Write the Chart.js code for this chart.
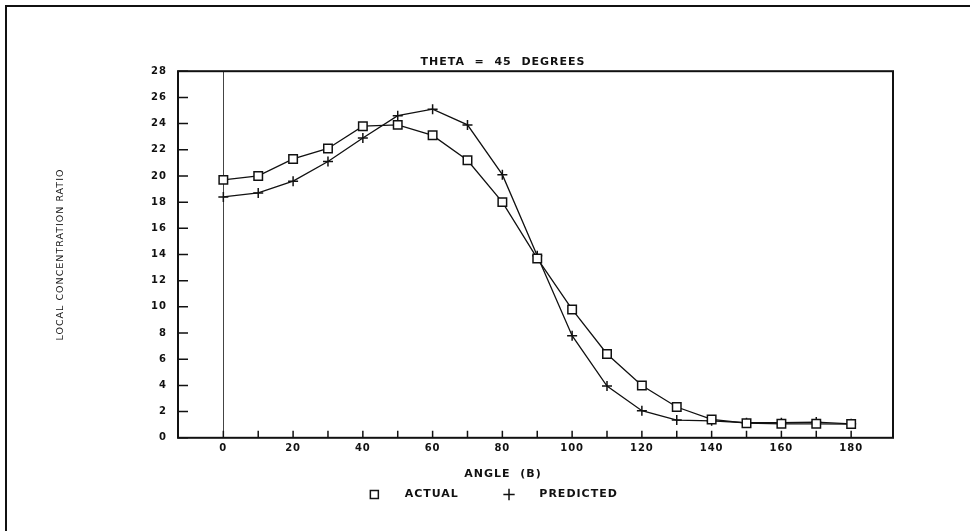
<!DOCTYPE html>
<html>
<head>
<meta charset="utf-8">
<script src="https://cdn.jsdelivr.net/npm/chart.js@4.4.1/dist/chart.umd.min.js"></script>
<style>
  body { margin: 0; background: #fff; }
  #page { position: absolute; left: 5px; top: 5px; width: 965px; height: 526px;
          border-top: 2px solid #111; border-left: 2px solid #111; }
  #chart { position: absolute; left: 0; top: 0; }
</style>
</head>
<body>
<div id="page"></div>
<canvas id="chart" width="970" height="531"></canvas>
<script>
Chart.defaults.font.family = '"DejaVu Sans", sans-serif';
Chart.defaults.color = '#111';

// angle in degrees
const angles = [0, 10, 20, 30, 40, 50, 60, 70, 80, 90, 100, 110, 120, 130, 140, 150, 160, 170, 180];
const actual = [19.7, 20.0, 21.3, 22.1, 23.8, 23.9, 23.1, 21.2, 18.0, 13.7, 9.8, 6.4, 4.0, 2.35, 1.4, 1.12, 1.07, 1.07, 1.05];
const predicted = [18.4, 18.7, 19.6, 21.1, 22.9, 24.6, 25.1, 23.9, 20.1, 13.9, 7.8, 3.95, 2.07, 1.35, 1.3, 1.15, 1.15, 1.2, 1.07];

const xMin = -13, xMax = 192;
const yMin = 0, yMax = 28;

// plotter style: box round the plot, ticks pointing inward
const frame = {
  id: 'frame',
  beforeUpdate(chart) { chart.ctx.letterSpacing = '1px'; },
  beforeDraw(chart) { chart.ctx.letterSpacing = '1px'; },
  beforeDatasetsDraw(chart) {
    const { ctx, chartArea: a, scales: { x, y } } = chart;
    ctx.save();
    ctx.strokeStyle = '#111';
    ctx.lineWidth = 2;
    ctx.strokeRect(a.left, a.top, a.right - a.left, a.bottom - a.top);
    ctx.lineWidth = 1.5;
    ctx.beginPath();
    x.ticks.forEach(t => {
      const px = x.getPixelForValue(t.value);
      ctx.moveTo(px, a.bottom);
      ctx.lineTo(px, a.bottom - 7);
    });
    y.ticks.forEach(t => {
      const py = y.getPixelForValue(t.value);
      ctx.moveTo(a.left, py);
      ctx.lineTo(a.left + 10, py);
    });
    ctx.stroke();
    ctx.restore();
  }
};

new Chart(document.getElementById('chart'), {
  type: 'line',
  data: {
    datasets: [
      {
        label: 'ACTUAL',
        data: angles.map((a, i) => ({ x: a, y: actual[i] })),
        borderColor: '#111',
        borderWidth: 1.3,
        pointStyle: 'rect',
        pointRadius: 6,
        pointBorderWidth: 1.5,
        pointBackgroundColor: '#fff',
        pointBorderColor: '#111',
        tension: 0,
      },
      {
        label: 'PREDICTED',
        data: angles.map((a, i) => ({ x: a, y: predicted[i] })),
        borderColor: '#111',
        borderWidth: 1.3,
        pointStyle: 'cross',
        pointRadius: 5,
        pointBorderWidth: 1.5,
        pointBorderColor: '#111',
        tension: 0,
      },
    ],
  },
  options: {
    responsive: false,
    animation: false,
    events: [],
    layout: { padding: { left: 36, right: 0, top: 0, bottom: 21 } },
    plugins: {
      title: {
        display: true,
        text: 'THETA  =  45  DEGREES',
        font: { size: 11, weight: 'bold' },
        padding: { top: 56, bottom: 2 },
      },
      subtitle: {
        display: true,
        text: 'ANGLE  (B)',
        position: 'bottom',
        weight: 500,
        font: { size: 11, weight: 'bold' },
        padding: { top: 8, bottom: 2 },
      },
      legend: {
        position: 'bottom',
        labels: {
          usePointStyle: true,
          boxHeight: 8,
          padding: 6,
          font: { size: 11, weight: 'bold' },
          generateLabels(chart) {
            const items = Chart.defaults.plugins.legend.labels.generateLabels(chart);
            items[0].text = '    ' + items[0].text + '        ';
            items[1].text = '    ' + items[1].text + '    ';
            return items;
          },
        },
      },
      tooltip: { enabled: false },
    },
    scales: {
      x: {
        type: 'linear',
        min: xMin,
        max: xMax,
        border: { display: false },
        grid: {
          drawTicks: false,
          lineWidth: 1,
          color: ctx => (ctx.tick && ctx.tick.value === 0 ? '#444' : 'rgba(0,0,0,0)'),
        },
        afterBuildTicks: s => { s.ticks = s.ticks.filter(t => t.value >= 0 && t.value <= 180); },
        ticks: {
          stepSize: 10,
          includeBounds: false,
          autoSkip: false,
          maxRotation: 0,
          padding: 5,
          font: { size: 10, weight: 'bold' },
          callback: v => (v % 20 === 0 ? String(v) : ''),
        },
      },
      y: {
        min: yMin,
        max: yMax,
        border: { display: false },
        grid: { display: false, drawTicks: false },
        afterFit: s => { s.width = 142; },
        ticks: {
          stepSize: 2,
          padding: 11,
          font: { size: 10, weight: 'bold' },
        },
        title: {
          display: true,
          text: 'LOCAL CONCENTRATION RATIO',
          font: { size: 9.5 },
          padding: { top: 19, bottom: 0 },
        },
      },
      y2: {
        type: 'linear',
        position: 'right',
        display: true,
        border: { display: false },
        grid: { display: false, drawTicks: false },
        ticks: { display: false },
        afterFit: s => { s.width = 77; },
      },
    },
  },
  plugins: [frame],
});
</script>
</body>
</html>
